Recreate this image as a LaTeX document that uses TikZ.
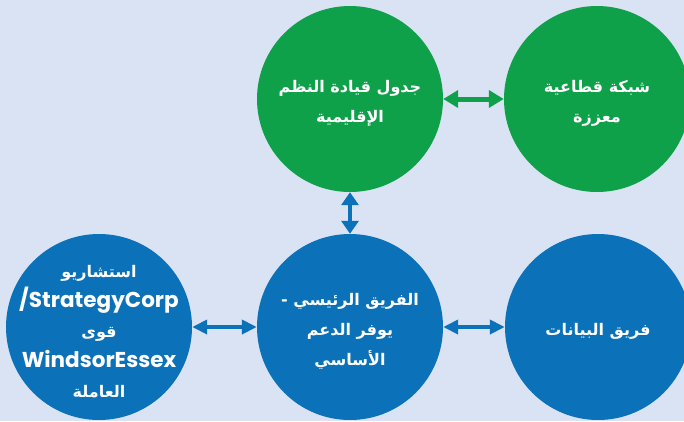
\documentclass[tikz,border=0pt]{standalone}
\usepackage{fontspec}
\usetikzlibrary{arrows.meta}
\TeXXeTstate=1
\newfontfamily\arabicfont[Script=Arabic]{DejaVu Sans}
\newfontfamily\latinfont{Poppins}
\definecolor{bgc}{HTML}{DAE3F3}
\definecolor{grn}{HTML}{0FA14A}
\definecolor{blu}{HTML}{0B72B9}
\newcommand{\ar}[1]{\makebox[0pt][c]{\arabicfont\bfseries\beginR #1\endR}}
\newcommand{\la}[1]{\makebox[0pt][c]{\fontsize{21.5}{30}\selectfont\latinfont\bfseries #1}}
\newcommand{\lift}{\rule{0pt}{21pt}}
\tikzset{
  bubble/.style={circle, minimum size=186pt, inner sep=0pt, text=white, align=center,
    font=\fontsize{16}{30}\selectfont},
  gbubble/.style={bubble, fill=grn},
  bbubble/.style={bubble, fill=blu},
  garrow/.style={grn, line width=5pt, {Triangle[length=15pt,width=17pt]}-{Triangle[length=15pt,width=17pt]}},
  varrow/.style={blu, line width=4.5pt, {Triangle[length=13pt,width=17pt]}-{Triangle[length=13pt,width=17pt]}},
  harrow/.style={blu, line width=4pt, {Triangle[length=15pt,width=14pt]}-{Triangle[length=15pt,width=14pt]}}
}
\begin{document}
\begin{tikzpicture}[x=1pt,y=-1pt]
\fill[bgc] (0,0) rectangle (684,421);
\useasboundingbox (0,0) rectangle (684,421);
\node[gbubble] (lead) at (350,99) {\lift\ar{جدول قيادة النظم}\\\ar{الإقليمية}};
\node[gbubble] (net) at (597,99) {\lift\ar{شبكة قطاعية}\\\ar{معززة}};
\node[bbubble] (core) at (350,327) {\lift\ar{الفريق الرئيسي -}\\\ar{يوفر الدعم}\\\ar{الأساسي}};
\node[bbubble] (data) at (598,327) {\lift\ar{فريق البيانات}};
\node[bbubble] (cons) at (99,327) {\lift\ar{استشاريو}\\\la{/StrategyCorp}\\\ar{قوى}\\\la{WindsorEssex}\\\ar{العاملة}};
\draw[garrow] (lead) -- (net);
\draw[varrow] (lead) -- (core);
\draw[harrow] (cons) -- (core);
\draw[harrow] (core) -- (data);
\end{tikzpicture}
\end{document}
